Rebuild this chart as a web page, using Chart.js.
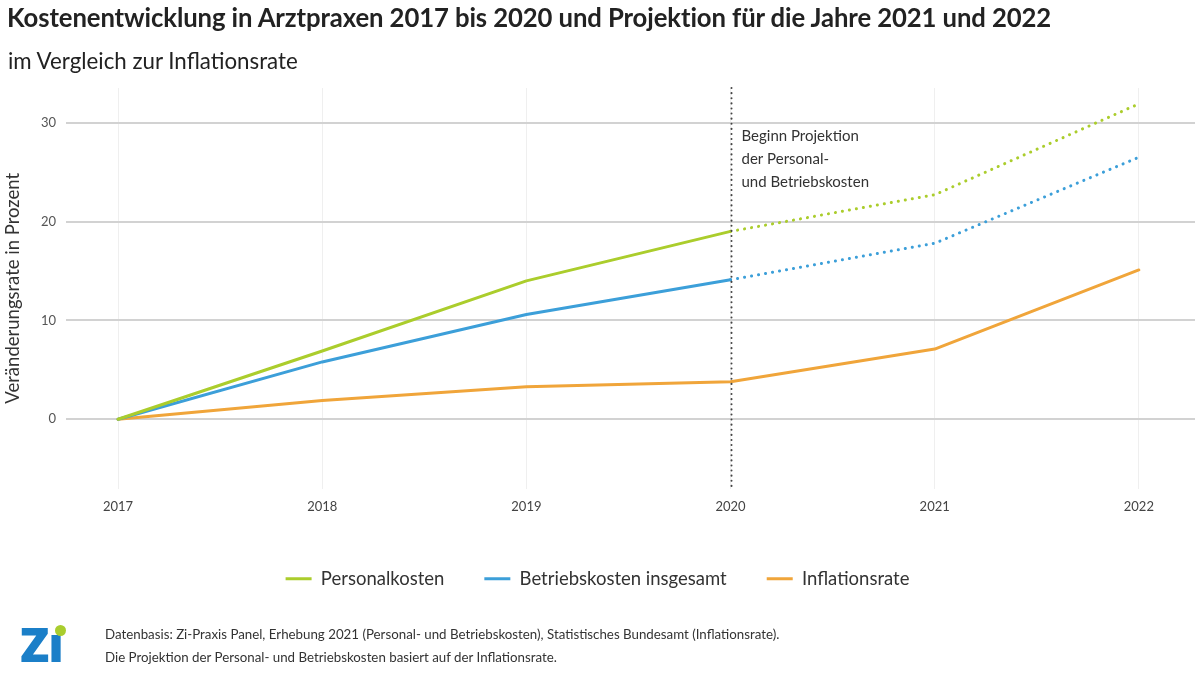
<!DOCTYPE html>
<html><head><meta charset="utf-8">
<script src="https://cdn.jsdelivr.net/npm/chart.js@4.4.1/dist/chart.umd.min.js"></script>
<style>
html,body{margin:0;padding:0;background:#fff;}
body{width:1200px;height:676px;position:relative;overflow:hidden;font-family:Lato,"Open Sans",sans-serif;color:#222;}
#title{position:absolute;left:7px;top:2px;font-size:25.7px;font-weight:700;white-space:nowrap;letter-spacing:-0.1px;}
#sub{position:absolute;left:8px;top:47px;font-size:22.3px;white-space:nowrap;}
#wrap{position:absolute;left:0;top:0;width:1200px;height:676px;}
#logo{position:absolute;left:20px;top:621px;font-family:"Open Sans",sans-serif;font-weight:800;font-size:48px;color:#1b7fc8;line-height:46px;letter-spacing:-1px;}
#dot{position:absolute;left:55px;top:625px;width:11px;height:11px;border-radius:50%;background:#a9cd2e;}
#foot{position:absolute;left:105px;top:623px;font-size:13.3px;line-height:23px;color:#333;white-space:nowrap;}
</style></head>
<body>
<div id="wrap"><canvas id="c" width="1200" height="676"></canvas></div>
<div id="title">Kostenentwicklung in Arztpraxen 2017 bis 2020 und Projektion für die Jahre 2021 und 2022</div>
<div id="sub">im Vergleich zur Inflationsrate</div>
<div id="logo">Zı</div><div id="dot"></div>
<div id="foot">Datenbasis: Zi-Praxis Panel, Erhebung 2021 (Personal- und Betriebskosten), Statistisches Bundesamt (Inflationsrate).<br>Die Projektion der Personal- und Betriebskosten basiert auf der Inflationsrate.</div>
<script>
const years = [2017, 2018, 2019, 2020, 2021, 2022];
const personalkosten = [0, 6.9, 14.0, 19.0, 22.7, 31.9];
const betriebskosten = [0, 5.8, 10.6, 14.1, 17.8, 26.5];
const inflationsrate = [0, 1.9, 3.3, 3.8, 7.1, 15.1];
const yTicks = [0, 10, 20, 30];
const projectionStart = 2020;
const annotationLines = ["Beginn Projektion", "der Personal-", "und Betriebskosten"];
const seriesNames = ["Personalkosten", "Betriebskosten insgesamt", "Inflationsrate"];

const GREEN = '#abcd2c', BLUE = '#3c9fd9', ORANGE = '#f0a53a';
const toPts = arr => years.map((y, i) => ({x: y, y: arr[i]}));
const projSeg = {borderDash: ctx => ctx.p0.parsed.x >= projectionStart ? [0.1, 7] : undefined};

const projPlugin = {
  id: 'proj',
  afterDatasetsDraw(chart) {
    const {ctx, chartArea, scales} = chart;
    const x = Math.round(scales.x.getPixelForValue(projectionStart)) + 0.5;
    ctx.save();
    ctx.strokeStyle = '#444';
    ctx.lineWidth = 2;
    ctx.lineCap = 'round';
    ctx.setLineDash([0.1, 5]);
    ctx.beginPath();
    ctx.moveTo(x, chartArea.top);
    ctx.lineTo(x, chartArea.bottom);
    ctx.stroke();
    ctx.setLineDash([]);
    ctx.fillStyle = '#333';
    ctx.font = '15px Lato, sans-serif';
    ctx.textBaseline = 'middle';
    const y0 = scales.y.getPixelForValue(28.6);
    annotationLines.forEach((t, i) => ctx.fillText(t, x + 10, y0 + i * 23));
    ctx.restore();
  }
};

new Chart(document.getElementById('c'), {
  type: 'line',
  data: {
    datasets: [
      {label: seriesNames[0], data: toPts(personalkosten), borderColor: GREEN, backgroundColor: GREEN, segment: projSeg},
      {label: seriesNames[1], data: toPts(betriebskosten), borderColor: BLUE, backgroundColor: BLUE, segment: projSeg},
      {label: seriesNames[2], data: toPts(inflationsrate), borderColor: ORANGE, backgroundColor: ORANGE}
    ]
  },
  options: {
    responsive: false,
    animation: false,
    events: [],
    layout: {padding: {top: 88, left: 0, right: 5, bottom: 78}},
    elements: {
      line: {borderWidth: 3, tension: 0, borderCapStyle: 'round', borderJoinStyle: 'round'},
      point: {radius: 0}
    },
    scales: {
      x: {
        type: 'linear', min: 2016.745, max: 2022.275,
        afterBuildTicks: s => { s.ticks = years.map(v => ({value: v})); },
        afterFit: s => { s.height = 41; },
        grid: {color: '#efefef', lineWidth: 1, drawTicks: false},
        border: {display: false},
        ticks: {padding: 11, color: '#444', font: {size: 13, family: 'Lato'}, callback: v => String(v)}
      },
      y: {
        min: -7, max: 33.5,
        afterBuildTicks: s => { s.ticks = yTicks.map(v => ({value: v})); },
        afterFit: s => { s.width = 66; },
        grid: {color: '#d2d2d2', lineWidth: 2, drawTicks: false},
        border: {display: false},
        ticks: {padding: 10, color: '#555', font: {size: 13, family: 'Lato'}},
        title: {display: true, text: 'Veränderungsrate in Prozent', color: '#333', font: {size: 18.5, family: 'Lato'}, padding: {top: 2, bottom: 0}}
      }
    },
    plugins: {
      legend: {
        position: 'bottom',
        labels: {
          boxWidth: 26, boxHeight: 3, padding: 40, color: '#333', font: {size: 18.5, family: 'Lato'},
          generateLabels: chart => Chart.defaults.plugins.legend.labels.generateLabels(chart).map(l => ({...l, lineWidth: 0}))
        }
      },
      tooltip: {enabled: false}
    }
  },
  plugins: [projPlugin]
});
</script>
</body></html>
